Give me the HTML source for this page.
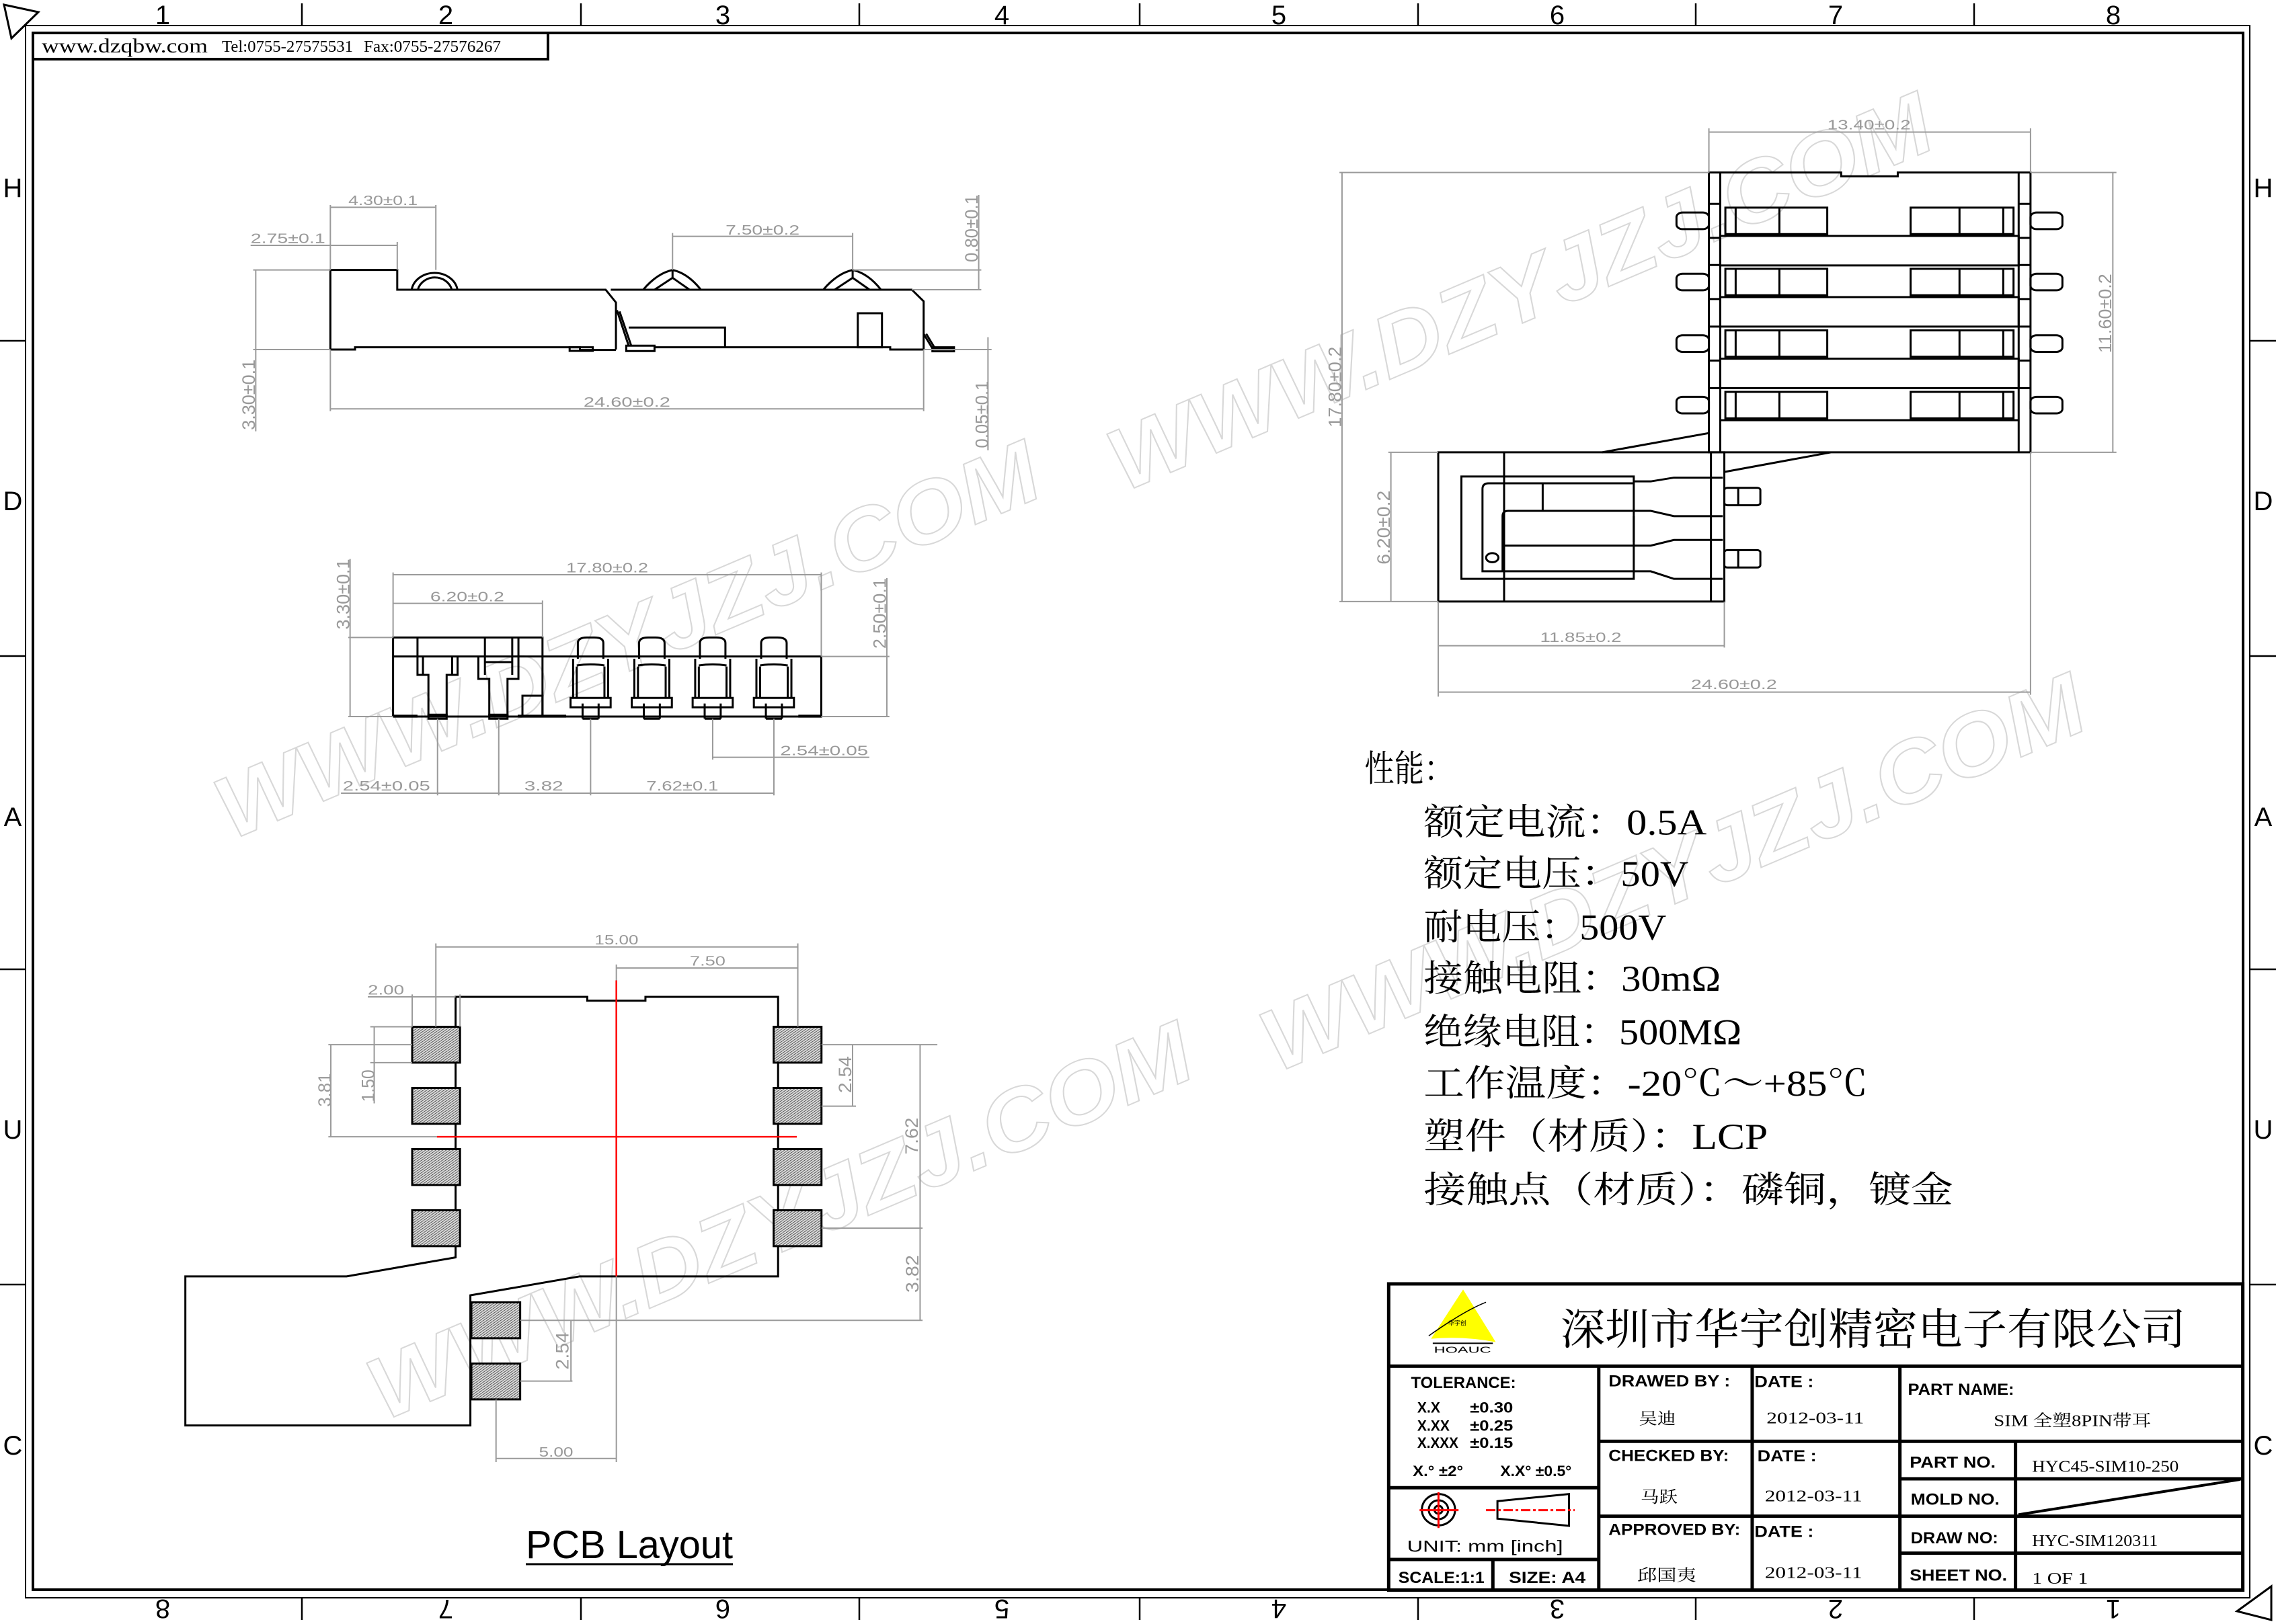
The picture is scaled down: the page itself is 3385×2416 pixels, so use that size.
<!DOCTYPE html>
<html><head><meta charset="utf-8">
<style>
html,body{margin:0;padding:0;background:#fff;}
svg{display:block;}
svg *{vector-effect:non-scaling-stroke;}
.k{fill:none;stroke:#000;stroke-width:3;}
.g{fill:none;stroke:#9a9a9a;stroke-width:2;}
.r{fill:none;stroke:#f00;stroke-width:2.5;}
.dt{font-family:"Liberation Sans Narrow","Liberation Sans",sans-serif;fill:#999;font-size:20px;}
.dv{font-family:"Liberation Sans",sans-serif;fill:#999;font-size:27px;}
.tb{font-family:"Liberation Sans Narrow","Liberation Sans",sans-serif;font-weight:bold;fill:#000;font-size:24px;}
.ts{font-family:"Liberation Serif","Noto Serif CJK SC",serif;fill:#000;font-size:24px;}
.fr{font-family:"Liberation Sans",sans-serif;fill:#000;font-size:40px;}
.pad{fill:url(#hatch);stroke:#000;stroke-width:3;}
.wm{font-family:"Liberation Sans",sans-serif;font-style:italic;font-weight:bold;fill:none;stroke:#d8d8d8;stroke-width:2;font-size:130px;}
</style></head>
<body>
<svg width="3385" height="2416" viewBox="0 0 3385 2416" xmlns="http://www.w3.org/2000/svg">
<defs>
<pattern id="hatch" patternUnits="userSpaceOnUse" width="7" height="7">
<rect width="7" height="7" fill="#dcdcdc"/>
<path d="M0,7 L7,0" stroke="#444" stroke-width="1.5"/>
</pattern>
</defs>
<rect width="3385" height="2416" fill="#fff"/>

<!-- watermarks -->
<text class="wm" transform="translate(950,993) rotate(-23)" text-anchor="middle" textLength="1317" lengthAdjust="spacingAndGlyphs">WWW.DZYJZJ.COM</text>
<text class="wm" transform="translate(2278,475) rotate(-23)" text-anchor="middle" textLength="1317" lengthAdjust="spacingAndGlyphs">WWW.DZYJZJ.COM</text>
<text class="wm" transform="translate(2505,1339) rotate(-23)" text-anchor="middle" textLength="1317" lengthAdjust="spacingAndGlyphs">WWW.DZYJZJ.COM</text>
<text class="wm" transform="translate(1177,1857) rotate(-23)" text-anchor="middle" textLength="1317" lengthAdjust="spacingAndGlyphs">WWW.DZYJZJ.COM</text>

<!-- frame -->
<rect x="38" y="38" width="3308" height="2339" fill="none" stroke="#000" stroke-width="2"/>
<rect x="49" y="49" width="3287" height="2316" fill="none" stroke="#000" stroke-width="4"/>
<polygon points="6,7 57,18 17,57" fill="none" stroke="#000" stroke-width="3"/>
<polygon points="3327,2397 3378,2360 3378,2410" fill="none" stroke="#000" stroke-width="3"/>
<g stroke="#000" stroke-width="2.5">
<line x1="449" y1="5" x2="449" y2="38"/><line x1="864" y1="5" x2="864" y2="38"/><line x1="1278" y1="5" x2="1278" y2="38"/><line x1="1695" y1="5" x2="1695" y2="38"/><line x1="2109" y1="5" x2="2109" y2="38"/><line x1="2522" y1="5" x2="2522" y2="38"/><line x1="2936" y1="5" x2="2936" y2="38"/>
<line x1="449" y1="2377" x2="449" y2="2410"/><line x1="864" y1="2377" x2="864" y2="2410"/><line x1="1278" y1="2377" x2="1278" y2="2410"/><line x1="1695" y1="2377" x2="1695" y2="2410"/><line x1="2109" y1="2377" x2="2109" y2="2410"/><line x1="2522" y1="2377" x2="2522" y2="2410"/><line x1="2936" y1="2377" x2="2936" y2="2410"/>
<line x1="0" y1="507" x2="38" y2="507"/><line x1="0" y1="976" x2="38" y2="976"/><line x1="0" y1="1442" x2="38" y2="1442"/><line x1="0" y1="1911" x2="38" y2="1911"/>
<line x1="3346" y1="507" x2="3385" y2="507"/><line x1="3346" y1="976" x2="3385" y2="976"/><line x1="3346" y1="1442" x2="3385" y2="1442"/><line x1="3346" y1="1911" x2="3385" y2="1911"/>
</g>
<g class="fr" text-anchor="middle">
<text x="242" y="36">1</text><text x="663" y="36">2</text><text x="1075" y="36">3</text><text x="1490" y="36">4</text><text x="1902" y="36">5</text><text x="2316" y="36">6</text><text x="2730" y="36">7</text><text x="3143" y="36">8</text>
<text transform="translate(242,2380) rotate(180)">8</text><text transform="translate(663,2380) rotate(180)">7</text><text transform="translate(1075,2380) rotate(180)">6</text><text transform="translate(1490,2380) rotate(180)">5</text><text transform="translate(1902,2380) rotate(180)">4</text><text transform="translate(2316,2380) rotate(180)">3</text><text transform="translate(2730,2380) rotate(180)">2</text><text transform="translate(3143,2380) rotate(180)">1</text>
<text x="19" y="293">H</text><text x="19" y="759">D</text><text x="19" y="1229">A</text><text x="19" y="1694">U</text><text x="19" y="2164">C</text>
<text x="3366" y="293">H</text><text x="3366" y="759">D</text><text x="3366" y="1229">A</text><text x="3366" y="1694">U</text><text x="3366" y="2164">C</text>
</g>
<!-- header -->
<rect x="49" y="49" width="766" height="39" fill="none" stroke="#000" stroke-width="4"/>
<text x="62" y="78" font-family="Liberation Serif,serif" font-size="30" textLength="247" lengthAdjust="spacingAndGlyphs">www.dzqbw.com</text>
<text x="330" y="77" font-family="Liberation Serif,serif" font-size="24" textLength="195" lengthAdjust="spacingAndGlyphs">Tel:0755-27575531</text>
<text x="541" y="77" font-family="Liberation Serif,serif" font-size="24" textLength="204" lengthAdjust="spacingAndGlyphs">Fax:0755-27576267</text>

<!-- SIDE VIEW (zoom2 coords) -->
<g transform="translate(300,250) scale(0.7653,0.3333)">
<path class="k" d="M250,810 V455 H380 V543 H785 L805,600 V810"/>
<path class="k" d="M795,543 H1380 L1403,595 V810"/>
<path class="k" d="M250,810 H298 V800 H735 V812 H805 M880,800 H1338 V810 H1403"/>
<rect class="k" x="715" y="800" width="45" height="16"/>
<rect class="k" x="825" y="793" width="55" height="24"/>
<path class="k" d="M807,635 L830,795 M812,640 L835,795"/>
<path class="k" d="M830,712 H1017 V800"/>
<rect class="k" x="1275" y="648" width="47" height="152"/>
<path class="k" d="M1403,740 L1420,805 H1462 M1408,740 L1425,805"/>
<rect class="k" x="1420" y="800" width="42" height="18"/>
<path class="k" d="M408,543 A45,88 0 0 1 497,543 M420,543 A34,72 0 0 1 486,543"/>
<path class="k" d="M858,543 Q885,470 915,455 Q945,470 970,543 M880,543 L915,490 L948,543 M915,455 V490"/>
<path class="k" d="M1208,543 Q1235,470 1265,455 Q1295,470 1320,543 M1230,543 L1265,490 L1298,543 M1265,455 V490"/>
<path class="g" d="M105,455 V1175 M100,455 H250 M100,810 H250 M95,345 H380 M250,165 V455 M380,330 V455 M250,175 H455 M455,165 V455 M915,290 V455 M1265,290 V455 M915,305 H1265 M1510,120 V545 M1265,455 H1515 M1380,543 H1515 M250,810 V1085 M1403,810 V1085 M250,1075 H1403 M1528,755 V1260 M1403,810 H1535"/>
<text class="dt" transform="translate(95,335) scale(1.307,3)" textLength="111" lengthAdjust="spacingAndGlyphs">2.75±0.1</text>
<text class="dt" transform="translate(285,165) scale(1.307,3)" textLength="103" lengthAdjust="spacingAndGlyphs">4.30±0.1</text>
<text class="dt" transform="translate(1018,297) scale(1.307,3)" textLength="110" lengthAdjust="spacingAndGlyphs">7.50±0.2</text>
<text class="dt" transform="translate(742,1065) scale(1.307,3)" textLength="129" lengthAdjust="spacingAndGlyphs">24.60±0.2</text>
<text class="dv" transform="translate(103,1012) scale(1.307,3) rotate(-90)" text-anchor="middle" textLength="105" lengthAdjust="spacingAndGlyphs">3.30±0.1</text>
<text class="dv" transform="translate(1508,270) scale(1.307,3) rotate(-90)" text-anchor="middle" textLength="100" lengthAdjust="spacingAndGlyphs">0.80±0.1</text>
<text class="dv" transform="translate(1528,1100) scale(1.307,3) rotate(-90)" text-anchor="middle" textLength="100" lengthAdjust="spacingAndGlyphs">0.05±0.1</text>
</g>

<!-- FRONT VIEW (zoom5 coords) -->
<g transform="translate(480,800) scale(0.542,0.3333)">
<path class="k" d="M193,798 V445 H603 V798 M193,530 H1368 V798 H193"/>
<path class="k" d="M260,445 V612 H290 V798 M370,530 V612 H340 V798 M275,530 V612 M355,530 V612"/>
<path class="k" d="M445,445 V612 M427,530 V630 H457 V798 M537,445 V630 H507 V798 M520,445 V612 M445,555 H520"/>
<rect class="k" x="548" y="705" width="55" height="93"/>
<g id="cp">
<path class="k" d="M700,540 V470 Q700,445 725,445 H745 Q770,445 770,470 V540"/>
<path class="k" d="M687,540 V715 M783,540 V715 M697,575 V715 M773,575 V715 M697,570 Q735,560 773,570"/>
<rect class="k" x="680" y="715" width="110" height="42"/>
<path class="k" d="M713,740 V808 M757,740 V808 M713,808 H757"/>
</g>
<use href="#cp" x="168"/><use href="#cp" x="335"/><use href="#cp" x="503"/>
<path d="M193,790 H260 V803 H193Z M535,790 H668 V803 H535Z M1305,790 H1368 V803 H1305Z" fill="#000"/>
<path class="k" d="M290,790 H340 V808 H290Z M457,790 H507 V808 H457Z"/>
<path class="g" d="M193,155 V445 M1368,155 V530 M193,165 H1368 M603,280 V445 M193,293 H603 M75,95 V800 M70,445 H193 M70,798 H193 M1548,180 V800 M1368,530 H1555 M1368,798 H1555 M315,808 V1150 M483,808 V1150 M735,808 V1150 M1070,808 V990 M1238,808 V1150 M50,1140 H1238 M1070,980 H1500"/>
<text class="dt" transform="translate(668,155) scale(1.845,3)" textLength="122" lengthAdjust="spacingAndGlyphs">17.80±0.2</text>
<text class="dt" transform="translate(295,283) scale(1.845,3)" textLength="110" lengthAdjust="spacingAndGlyphs">6.20±0.2</text>
<text class="dv" transform="translate(73,252) scale(1.845,3) rotate(-90)" text-anchor="middle" textLength="105" lengthAdjust="spacingAndGlyphs">3.30±0.1</text>
<text class="dv" transform="translate(1545,338) scale(1.845,3) rotate(-90)" text-anchor="middle" textLength="105" lengthAdjust="spacingAndGlyphs">2.50±0.1</text>
<text class="dt" transform="translate(55,1128) scale(1.845,3)" textLength="130" lengthAdjust="spacingAndGlyphs">2.54±0.05</text>
<text class="dt" transform="translate(553,1128) scale(1.845,3)" textLength="58" lengthAdjust="spacingAndGlyphs">3.82</text>
<text class="dt" transform="translate(888,1128) scale(1.845,3)" textLength="107" lengthAdjust="spacingAndGlyphs">7.62±0.1</text>
<text class="dt" transform="translate(1255,970) scale(1.845,3)" textLength="131" lengthAdjust="spacingAndGlyphs">2.54±0.05</text>
</g>

<!-- TOP VIEW (zoom4 coords) -->
<g transform="translate(1950,160) scale(0.7653,0.5618)">
<path class="k" d="M773,913 V172 H1030 V182 H1140 V172 H1398 V913 Z M795,172 V913 M1375,172 V913"/>
<g id="row">
<rect class="k" x="710" y="278" width="63" height="44" rx="12"/>
<rect class="k" x="1398" y="278" width="62" height="44" rx="12"/>
<rect class="k" x="805" y="265" width="198" height="70"/>
<path class="k" d="M825,265 V335 M910,265 V335"/>
<rect class="k" x="1165" y="265" width="200" height="70"/>
<path class="k" d="M1260,265 V335 M1345,265 V335"/>
<path class="k" d="M773,255 H795 M1375,255 H1398 M773,345 H795 M1375,345 H1398"/>
<rect class="k" x="795" y="340" width="580" height="78"/>
</g>
<use href="#row" y="162"/><use href="#row" y="325"/>
<g transform="translate(0,488)">
<rect class="k" x="710" y="278" width="63" height="44" rx="12"/>
<rect class="k" x="1398" y="278" width="62" height="44" rx="12"/>
<rect class="k" x="805" y="265" width="198" height="70"/>
<path class="k" d="M825,265 V335 M910,265 V335"/>
<rect class="k" x="1165" y="265" width="200" height="70"/>
<path class="k" d="M1260,265 V335 M1345,265 V335"/>
<path class="k" d="M773,255 H795 M1375,255 H1398 M795,340 H1375"/>
</g>
<rect class="k" x="247" y="913" width="556" height="395"/>
<path class="k" d="M375,913 V1308 M777,913 V1308 M565,913 L773,862 M803,965 L1010,913"/>
<path class="k" d="M627,977 H292 V1248 H627 Z"/>
<path class="k" d="M627,995 H345 Q333,995 333,1010 V1228 H627 M627,1068 H383 Q372,1068 372,1082 V1228 M372,1160 H627 M450,995 V1068 M627,1082 V1150"/>
<path class="k" d="M627,990 H660 L705,980 H800 M627,1068 H660 L705,1082 H800 M627,1160 H660 L705,1145 H800 M627,1228 H660 L705,1248 H800"/>
<circle class="k" cx="352" cy="1192" r="12"/>
<rect class="k" x="803" y="1007" width="70" height="46" rx="6"/>
<rect class="k" x="803" y="1172" width="70" height="46" rx="6"/>
<path class="k" d="M830,1007 V1053 M830,1172 V1218"/>
<path class="g" d="M773,55 V172 M1398,55 V172 M773,65 H1398 M60,172 V1310 M55,172 H773 M55,1308 H247 M1558,172 V913 M1398,172 H1565 M1398,913 H1565 M155,913 V1308 M150,913 H247 M247,1308 V1560 M803,1308 V1430 M247,1425 H803 M1398,913 V1555 M247,1548 H1398"/>
<text class="dt" transform="translate(1003,58) scale(1.307,1.78)" textLength="124" lengthAdjust="spacingAndGlyphs">13.40±0.2</text>
<text class="dv" transform="translate(58,740) scale(1.307,1.78) rotate(-90)" text-anchor="middle" textLength="120" lengthAdjust="spacingAndGlyphs">17.80±0.2</text>
<text class="dv" transform="translate(1555,545) scale(1.307,1.78) rotate(-90)" text-anchor="middle" textLength="118" lengthAdjust="spacingAndGlyphs">11.60±0.2</text>
<text class="dv" transform="translate(153,1112) scale(1.307,1.78) rotate(-90)" text-anchor="middle" textLength="110" lengthAdjust="spacingAndGlyphs">6.20±0.2</text>
<text class="dt" transform="translate(445,1415) scale(1.307,1.78)" textLength="121" lengthAdjust="spacingAndGlyphs">11.85±0.2</text>
<text class="dt" transform="translate(738,1540) scale(1.307,1.78)" textLength="128" lengthAdjust="spacingAndGlyphs">24.60±0.2</text>
</g>

<!-- PCB LAYOUT (zoom3 coords) -->
<g transform="translate(250,1380) scale(0.7334,0.5230)">
<path class="k" d="M583,938 V197 H850 V208 H968 V197 H1237 V992 H835 L613,1046 V1416 H35 V992 H362 Z"/>
<rect class="pad" x="495" y="282" width="97" height="102"/>
<rect class="pad" x="495" y="456" width="97" height="102"/>
<rect class="pad" x="495" y="630" width="97" height="102"/>
<rect class="pad" x="495" y="804" width="97" height="102"/>
<rect class="pad" x="1228" y="282" width="97" height="102"/>
<rect class="pad" x="1228" y="456" width="97" height="102"/>
<rect class="pad" x="1228" y="630" width="97" height="102"/>
<rect class="pad" x="1228" y="804" width="97" height="102"/>
<rect class="pad" x="615" y="1066" width="99" height="102"/>
<rect class="pad" x="615" y="1240" width="99" height="102"/>
<path class="r" d="M909,150 V992 M545,595 H1275"/>
<path class="g" d="M543,45 V282 M1277,45 V282 M543,55 H1277 M909,105 V150 M909,115 H1277 M405,197 H583 M495,190 V282 M592,190 V282 M330,333 V595 M325,333 H495 M325,595 H545 M418,282 V500 M410,282 H495 M410,384 H495 M1388,333 V508 M1325,333 H1395 M1325,508 H1395 M1525,333 V1117 M1325,333 H1560 M1325,855 H1530 M714,1117 H1530 M817,1117 V1290 M714,1290 H820 M665,1342 V1520 M909,992 V1520 M665,1510 H909"/>
<text class="dt" transform="translate(865,48) scale(1.3635,1.912)" textLength="65" lengthAdjust="spacingAndGlyphs">15.00</text>
<text class="dt" transform="translate(1058,108) scale(1.3635,1.912)" textLength="53" lengthAdjust="spacingAndGlyphs">7.50</text>
<text class="dt" transform="translate(405,190) scale(1.3635,1.912)" textLength="54" lengthAdjust="spacingAndGlyphs">2.00</text>
<text class="dv" transform="translate(330,462) scale(1.3635,1.912) rotate(-90)" text-anchor="middle" textLength="50" lengthAdjust="spacingAndGlyphs">3.81</text>
<text class="dv" transform="translate(418,450) scale(1.3635,1.912) rotate(-90)" text-anchor="middle" textLength="48" lengthAdjust="spacingAndGlyphs">1.50</text>
<text class="dv" transform="translate(1385,418) scale(1.3635,1.912) rotate(-90)" text-anchor="middle" textLength="55" lengthAdjust="spacingAndGlyphs">2.54</text>
<text class="dv" transform="translate(1520,593) scale(1.3635,1.912) rotate(-90)" text-anchor="middle" textLength="55" lengthAdjust="spacingAndGlyphs">7.62</text>
<text class="dv" transform="translate(1522,985) scale(1.3635,1.912) rotate(-90)" text-anchor="middle" textLength="56" lengthAdjust="spacingAndGlyphs">3.82</text>
<text class="dv" transform="translate(812,1204) scale(1.3635,1.912) rotate(-90)" text-anchor="middle" textLength="56" lengthAdjust="spacingAndGlyphs">2.54</text>
<text class="dt" transform="translate(752,1505) scale(1.3635,1.912)" textLength="51" lengthAdjust="spacingAndGlyphs">5.00</text>
</g>
<text x="782" y="2318" font-family="Liberation Sans,sans-serif" font-size="58" textLength="308" lengthAdjust="spacingAndGlyphs">PCB Layout</text>
<line x1="782" y1="2327" x2="1090" y2="2327" stroke="#000" stroke-width="3"/>

<!-- SPEC TEXT (zoom6 coords) -->
<g transform="translate(1990,1090) scale(0.606,0.4656)" font-family="'Liberation Serif','Noto Serif CJK SC',serif" font-size="54">
<text transform="translate(65,155) scale(1.65,2.148)" textLength="133" lengthAdjust="spacingAndGlyphs">性能：</text>
<text transform="translate(210,325) scale(1.65,2.148)" textLength="421" lengthAdjust="spacingAndGlyphs">额定电流：0.5A</text>
<text transform="translate(210,490) scale(1.65,2.148)" textLength="394" lengthAdjust="spacingAndGlyphs">额定电压：50V</text>
<text transform="translate(210,660) scale(1.65,2.148)" textLength="361" lengthAdjust="spacingAndGlyphs">耐电压：500V</text>
<text transform="translate(210,825) scale(1.65,2.148)" textLength="442" lengthAdjust="spacingAndGlyphs">接触电阻：30mΩ</text>
<text transform="translate(210,995) scale(1.65,2.148)" textLength="473" lengthAdjust="spacingAndGlyphs">绝缘电阻：500MΩ</text>
<text transform="translate(210,1160) scale(1.65,2.148)" textLength="661" lengthAdjust="spacingAndGlyphs">工作温度：-20℃～+85℃</text>
<text transform="translate(210,1330) scale(1.65,2.148)" textLength="512" lengthAdjust="spacingAndGlyphs">塑件（材质）：LCP</text>
<text transform="translate(210,1500) scale(1.65,2.148)" textLength="788" lengthAdjust="spacingAndGlyphs">接触点（材质）：磷铜，镀金</text>
</g>

<!-- TITLE BLOCK (zoom1 coords) -->
<g transform="translate(2050,1900) scale(0.8514,0.3333)">
<rect x="18" y="30" width="1492" height="1367" fill="none" stroke="#000" stroke-width="5"/>
<path fill="none" stroke="#000" stroke-width="5" d="M18,397 H1510 M385,397 V1397 M653,397 V1397 M911,397 V1397 M1113,733 V1397 M18,940 H385 M18,1260 H385 M200,1260 V1397 M385,733 H1510 M385,1067 H1510 M911,900 H1510 M911,1232 H1510"/>
<path fill="none" stroke="#000" stroke-width="4" d="M1118,1060 L1505,903"/>
<path d="M148,55 L92,275 Q148,262 205,290 Z" fill="#ffff00"/>
<path d="M88,262 Q150,150 188,112" fill="none" stroke="#000" stroke-width="1.5"/>
<path d="M95,295 H200" stroke="#000" stroke-width="2"/>
<text transform="translate(122,215) scale(1.1745,3)" font-family="'Noto Sans CJK SC',sans-serif" font-size="9" fill="#000">华宇创</text>
<text transform="translate(97,337) scale(1.1745,3)" font-family="Liberation Sans,sans-serif" font-size="13" fill="#000" textLength="85" lengthAdjust="spacingAndGlyphs">HOAUC</text>
<text transform="translate(318,300) scale(1.1745,3)" font-family="'Liberation Serif','Noto Serif CJK SC',serif" font-size="64" fill="#000" textLength="930" lengthAdjust="spacingAndGlyphs">深圳市华宇创精密电子有限公司</text>
<text class="tb" transform="translate(57,495) scale(1.1745,3)" textLength="156" lengthAdjust="spacingAndGlyphs">TOLERANCE:</text>
<g class="tb" style="font-size:22px">
<text transform="translate(68,605) scale(1.1745,3)" textLength="34" lengthAdjust="spacingAndGlyphs">X.X</text><text transform="translate(160,605) scale(1.1745,3)" textLength="64" lengthAdjust="spacingAndGlyphs">±0.30</text>
<text transform="translate(68,685) scale(1.1745,3)" textLength="48" lengthAdjust="spacingAndGlyphs">X.XX</text><text transform="translate(160,685) scale(1.1745,3)" textLength="64" lengthAdjust="spacingAndGlyphs">±0.25</text>
<text transform="translate(68,762) scale(1.1745,3)" textLength="61" lengthAdjust="spacingAndGlyphs">X.XXX</text><text transform="translate(160,762) scale(1.1745,3)" textLength="64" lengthAdjust="spacingAndGlyphs">±0.15</text>
<text transform="translate(60,888) scale(1.1745,3)" textLength="75" lengthAdjust="spacingAndGlyphs">X.°  ±2°</text><text transform="translate(213,888) scale(1.1745,3)" textLength="106" lengthAdjust="spacingAndGlyphs">X.X° ±0.5°</text>
</g>
<ellipse cx="105" cy="1038" rx="29" ry="70" fill="none" stroke="#000" stroke-width="3"/>
<ellipse cx="105" cy="1038" rx="17" ry="42" fill="none" stroke="#000" stroke-width="3"/>
<ellipse cx="105" cy="1038" rx="7" ry="18" fill="none" stroke="#000" stroke-width="3"/>
<path d="M72,1040 H140 M105,960 V1120" stroke="#f00" stroke-width="3"/>
<path d="M208,1000 L333,968 V1110 L208,1078 Z" fill="none" stroke="#000" stroke-width="3"/>
<path d="M188,1040 H343" stroke="#f00" stroke-width="3" stroke-dasharray="14,4,4,4"/>
<text class="tb" transform="translate(50,1225) scale(1.1745,3)" textLength="232" lengthAdjust="spacingAndGlyphs" style="font-weight:normal">UNIT:  mm  [inch]</text>
<text class="tb" transform="translate(35,1365) scale(1.1745,3)" textLength="128" lengthAdjust="spacingAndGlyphs">SCALE:1:1</text>
<text class="tb" transform="translate(228,1365) scale(1.1745,3)" textLength="114" lengthAdjust="spacingAndGlyphs">SIZE:  A4</text>
<text class="tb" transform="translate(402,488) scale(1.1745,3)" textLength="181" lengthAdjust="spacingAndGlyphs">DRAWED  BY :</text>
<text class="tb" transform="translate(657,490) scale(1.1745,3)" textLength="88" lengthAdjust="spacingAndGlyphs">DATE  :</text>
<text class="tb" transform="translate(402,820) scale(1.1745,3)" textLength="179" lengthAdjust="spacingAndGlyphs">CHECKED  BY:</text>
<text class="tb" transform="translate(662,822) scale(1.1745,3)" textLength="88" lengthAdjust="spacingAndGlyphs">DATE  :</text>
<text class="tb" transform="translate(402,1150) scale(1.1745,3)" textLength="196" lengthAdjust="spacingAndGlyphs">APPROVED  BY:</text>
<text class="tb" transform="translate(657,1160) scale(1.1745,3)" textLength="88" lengthAdjust="spacingAndGlyphs">DATE  :</text>
<text class="tb" transform="translate(925,525) scale(1.1745,3)" textLength="158" lengthAdjust="spacingAndGlyphs">PART  NAME:</text>
<text class="tb" transform="translate(928,850) scale(1.1745,3)" textLength="128" lengthAdjust="spacingAndGlyphs">PART  NO.</text>
<text class="tb" transform="translate(930,1015) scale(1.1745,3)" textLength="132" lengthAdjust="spacingAndGlyphs">MOLD  NO.</text>
<text class="tb" transform="translate(930,1188) scale(1.1745,3)" textLength="130" lengthAdjust="spacingAndGlyphs">DRAW  NO:</text>
<text class="tb" transform="translate(928,1355) scale(1.1745,3)" textLength="145" lengthAdjust="spacingAndGlyphs">SHEET  NO.</text>
<text class="ts" transform="translate(455,655) scale(1.1745,3)" textLength="55" lengthAdjust="spacingAndGlyphs">吴迪</text>
<text class="ts" transform="translate(458,1005) scale(1.1745,3)" textLength="55" lengthAdjust="spacingAndGlyphs">马跃</text>
<text class="ts" transform="translate(452,1355) scale(1.1745,3)" textLength="88" lengthAdjust="spacingAndGlyphs">邱国夷</text>
<text class="ts" transform="translate(678,652) scale(1.1745,3)" textLength="145" lengthAdjust="spacingAndGlyphs">2012-03-11</text>
<text class="ts" transform="translate(675,1000) scale(1.1745,3)" textLength="145" lengthAdjust="spacingAndGlyphs">2012-03-11</text>
<text class="ts" transform="translate(675,1343) scale(1.1745,3)" textLength="145" lengthAdjust="spacingAndGlyphs">2012-03-11</text>
<text class="ts" transform="translate(1075,665) scale(1.1745,3)" textLength="234" lengthAdjust="spacingAndGlyphs">SIM 全塑8PIN带耳</text>
<text class="ts" transform="translate(1142,868) scale(1.1745,3)" textLength="218" lengthAdjust="spacingAndGlyphs">HYC45-SIM10-250</text>
<text class="ts" transform="translate(1142,1200) scale(1.1745,3)" textLength="187" lengthAdjust="spacingAndGlyphs">HYC-SIM120311</text>
<text class="ts" transform="translate(1142,1368) scale(1.1745,3)" textLength="83" lengthAdjust="spacingAndGlyphs">1 OF 1</text>
</g>
</svg>
</body></html>
